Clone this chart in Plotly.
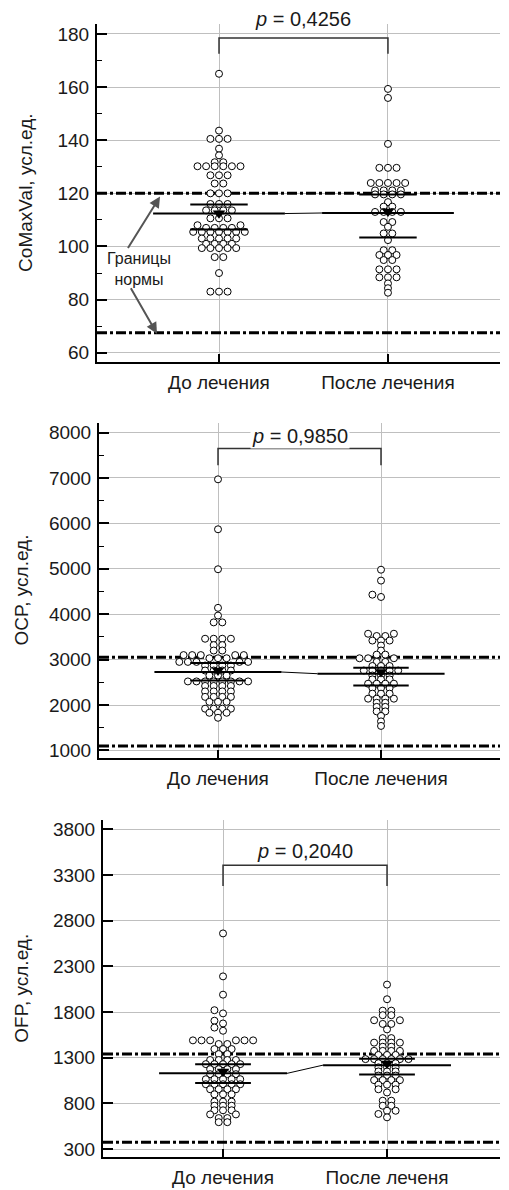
import math
import plotly.graph_objects as go

# The page body has an 8px default margin; figure coordinates are shifted by it.
OFF = 8
W, H = 509 - OFF, 1190 - OFF
FONT = "Liberation Sans, Arial, Helvetica, sans-serif"
TXT = "#1a1a1a"

# ---------------- data ----------------
groups = ["До лечения", "После лечения"]
groups_ofp = ["До лечения", "После леченя"]

comax_before = [
    165.0, 143.6, 140.5, 140.5, 140.5, 136.8, 134.3, 131.7, 131.7,
    130.2, 130.2, 130.2, 130.2, 130.2, 130.2,
    126.8, 126.8, 126.8, 123.7, 123.7, 120.0, 120.0, 120.0,
    116.0, 116.0, 116.0, 113.6, 113.6, 113.6, 113.6,
    110.6, 110.6, 110.6, 108.0, 108.0, 107.0, 107.0, 107.0, 107.0,
    105.5, 105.5, 105.5, 105.5, 105.5, 105.5, 105.5,
    103.0, 103.0, 103.0, 103.0, 103.0,
    101.0, 101.0, 101.0, 101.0,
    99.4, 99.4, 99.4, 99.4, 99.4,
    96.0, 96.0, 90.0, 83.0, 83.0, 83.0]
comax_after = [
    159.3, 155.9, 138.6, 129.6, 129.6, 129.6,
    123.9, 123.9, 123.9, 123.9, 123.9,
    121.1, 121.1, 121.1, 121.1, 119.6, 119.6, 119.6, 119.6,
    116.7, 115.0, 115.0, 113.0, 113.0, 113.0, 113.0,
    109.2, 109.2, 107.4, 104.9, 104.9, 102.4,
    98.6, 98.6, 96.8, 96.8, 96.8, 94.9, 94.9,
    91.4, 91.4, 91.4, 88.4, 88.4, 88.4, 86.1, 84.3, 82.6]

ocp_before = [
    6970, 5870, 4990, 4140, 3970, 3820, 3820,
    3460, 3460, 3460, 3460, 3320, 3320, 3200, 3200,
    3100, 3100, 3100, 3100, 3100, 3030, 3030, 3030,
    2950, 2950, 2950, 2950, 2950, 2870, 2870, 2870, 2870,
    2760, 2760, 2760, 2760, 2650, 2650, 2650,
    2520, 2520, 2520, 2520, 2520, 2520, 2520, 2520,
    2420, 2420, 2420, 2420, 2300, 2300, 2300, 2300,
    2180, 2180, 2180, 2180, 2070, 2070, 2070,
    1920, 1920, 1920, 1920, 1830, 1830, 1830, 1720]
ocp_after = [
    4980, 4740, 4430, 4380, 3570, 3570, 3520, 3520,
    3420, 3420, 3420, 3310, 3200, 3110, 3110,
    3030, 3030, 3030, 2950, 2950, 2860, 2860, 2860,
    2760, 2760, 2760, 2760, 2760, 2650, 2650, 2650,
    2565, 2565, 2565, 2470, 2470, 2470, 2470,
    2375, 2375, 2375, 2250, 2250, 2250,
    2140, 2140, 2140, 2140, 2050, 2050, 1960, 1960,
    1860, 1860, 1760, 1640, 1540]

ofp_before = [
    2660, 2190, 1990, 1820, 1785, 1705, 1675, 1630, 1595,
    1490, 1490, 1490, 1490, 1490, 1490, 1450, 1450,
    1395, 1395, 1395, 1340, 1340,
    1275, 1275, 1275, 1275, 1230, 1230, 1230, 1230, 1230,
    1175, 1175, 1175, 1175, 1120, 1120, 1120, 1120,
    1065, 1065, 1065, 1065, 1065, 1010, 1010, 1010, 1010, 1010,
    955, 955, 955, 955, 900, 900, 900,
    820, 820, 820, 775, 775, 775, 725, 725, 725,
    680, 680, 640, 640, 595, 595]
ofp_after = [
    2100, 1940, 1815, 1815, 1765, 1765, 1710, 1710, 1670, 1670, 1610,
    1515, 1515, 1465, 1465, 1465, 1465, 1420, 1420,
    1375, 1375, 1375, 1375, 1330, 1330, 1330,
    1285, 1285, 1285, 1285, 1285, 1285, 1240, 1240, 1240,
    1195, 1195, 1195, 1150, 1150, 1150, 1105, 1105, 1105,
    1055, 1055, 1055, 1055, 1005, 1005, 1005, 955, 955, 920,
    830, 830, 775, 775, 720, 720, 685, 648]

# summary statistics per group (long line, mean marker, CI short lines)
comax_line = [112.4, 112.6]
comax_mean = [112.5, 113.2]
comax_ci_low = [106.4, 103.4]
comax_ci_high = [115.8, 119.6]
ocp_line = [2727, 2690]
ocp_mean = [2762, 2727]
ocp_ci_low = [2543, 2433]
ocp_ci_high = [2924, 2821]
ofp_line = [1129, 1219]
ofp_mean = [1150, 1238]
ofp_ci_low = [1023, 1117]
ofp_ci_high = [1230, 1290]

comax_norm = [67.5, 120]
ocp_norm = [1100, 3050]
ofp_norm = [375, 1340]

p_values = ["0,4256", "0,9850", "0,2040"]
y_titles = ["CoMaxVal, усл.ед.", "OCP, усл.ед.", "OFP, усл.ед."]

# ---------------- layout config (reference pixel positions) ----------------
panels = [
    dict(vals=[comax_before, comax_after], line=comax_line, mean=comax_mean,
         lo=comax_ci_low, hi=comax_ci_high, norm=comax_norm, cats=groups,
         px=(97, 500, 23, 362), yr=(56.6, 183.75), xr=(-0.722, 1.663),
         tick0=60, dtick=20, minor=10, bracket=(172.5, 178.5), ptext_px=18,
         title_x=26),
    dict(vals=[ocp_before, ocp_after], line=ocp_line, mean=ocp_mean,
         lo=ocp_ci_low, hi=ocp_ci_high, norm=ocp_norm, cats=groups,
         px=(99, 500, 423, 760), yr=(824, 8219), xr=(-0.730, 1.730),
         tick0=1000, dtick=1000, minor=500, bracket=(7280, 7650), ptext_px=436,
         title_x=22),
    dict(vals=[ofp_before, ofp_after], line=ofp_line, mean=ofp_mean,
         lo=ofp_ci_low, hi=ofp_ci_high, norm=ofp_norm, cats=groups_ofp,
         px=(103, 500, 822, 1160), yr=(213, 3898), xr=(-0.732, 1.689),
         tick0=300, dtick=500, minor=None, bracket=(3178, 3407), ptext_px=853,
         title_x=22),
]

DOT = 7.0
DX = 8.6     # horizontal spacing of dots in a row (px)
DY = 3.8     # vertical distance under which dots must not share a column (px)
LONG_HW = 0.39
SHORT_HW = 0.17


def swarm(values, ppu):
    """Grid-like beeswarm: returns horizontal offsets in pixels."""
    offs = [0.0] * len(values)
    order = sorted(range(len(values)), key=lambda i: values[i])
    grp = []
    for i in order:
        if grp and values[grp[-1][0]] == values[i]:
            grp[-1].append(i)
        else:
            grp.append([i])
    placed = []

    def ok(x, y):
        for (xj, yj) in placed:
            if abs(y - yj) < DY and abs(x - xj) < DX - 1e-6:
                return False
        return True

    for g in grp:
        n = len(g)
        y = values[g[0]] * ppu
        done = False
        for s in [0, -0.5, 0.5, -1, 1]:
            xs = [((k - (n - 1) / 2) + s) * DX for k in range(n)]
            if all(ok(x, y) for x in xs):
                for k, i in enumerate(g):
                    offs[i] = xs[k]
                    placed.append((xs[k], y))
                done = True
                break
        if done:
            continue
        for i in g:
            cands = sorted([h * DX / 2 for h in range(-30, 31)], key=lambda c: (abs(c), c))
            for c in cands:
                if ok(c, y):
                    offs[i] = c
                    placed.append((c, y))
                    break
    return offs


fig = go.Figure()
annotations = []

for k, p in enumerate(panels):
    s = "" if k == 0 else str(k + 1)
    xa, ya = "x" + s, "y" + s
    x0p, x1p, y0p, y1p = [v - OFF for v in p["px"]]
    ppu = (y1p - y0p) / (p["yr"][1] - p["yr"][0])
    ppc = (x1p - x0p) / (p["xr"][1] - p["xr"][0])
    xdom = [x0p / W, x1p / W]
    ydom = [1 - y1p / H, 1 - y0p / H]

    # normal limits (dash-dot lines across the plot)
    for nv in p["norm"]:
        fig.add_trace(go.Scatter(
            x=list(p["xr"]), y=[nv, nv], mode="lines", xaxis=xa, yaxis=ya,
            showlegend=False, hoverinfo="skip",
            line=dict(color="black", width=3, dash="10px,3px,3px,3px")))

    # dots
    for g, vals in enumerate(p["vals"]):
        offs = swarm(vals, ppu)
        fig.add_trace(go.Scatter(
            x=[g + o / ppc for o in offs], y=vals, mode="markers",
            xaxis=xa, yaxis=ya, showlegend=False, hoverinfo="skip",
            marker=dict(size=DOT, color="white", line=dict(color="black", width=1))))

    # connecting thin line
    fig.add_trace(go.Scatter(
        x=[LONG_HW, 1 - LONG_HW], y=[p["line"][0], p["line"][1]], mode="lines",
        xaxis=xa, yaxis=ya, showlegend=False, hoverinfo="skip",
        line=dict(color="black", width=1)))
    for g in range(2):
        fig.add_trace(go.Scatter(
            x=[g - LONG_HW, g + LONG_HW], y=[p["line"][g]] * 2, mode="lines",
            xaxis=xa, yaxis=ya, showlegend=False, hoverinfo="skip",
            line=dict(color="black", width=2)))
        fig.add_trace(go.Scatter(
            x=[g - SHORT_HW, g + SHORT_HW, None, g - SHORT_HW, g + SHORT_HW],
            y=[p["lo"][g], p["lo"][g], None, p["hi"][g], p["hi"][g]], mode="lines",
            xaxis=xa, yaxis=ya, showlegend=False, hoverinfo="skip",
            line=dict(color="black", width=2)))
    fig.add_trace(go.Scatter(
        x=[0, 1], y=p["mean"], mode="markers", xaxis=xa, yaxis=ya,
        showlegend=False, hoverinfo="skip",
        marker=dict(symbol="triangle-down", size=11, color="black")))

    # bracket
    b0, b1 = p["bracket"]
    fig.add_trace(go.Scatter(
        x=[0, 0, 1, 1], y=[b0, b1, b1, b0], mode="lines", xaxis=xa, yaxis=ya,
        showlegend=False, hoverinfo="skip", cliponaxis=False,
        line=dict(color="#333333", width=1.5)))

    annotations.append(dict(
        x=0.5, y=1 - (p["ptext_px"] - OFF) / H, xref=xa, yref="paper",
        showarrow=False, xanchor="center", yanchor="middle",
        text="<i>p</i> = " + p_values[k], bgcolor="white",
        font=dict(family=FONT, size=20, color=TXT)))
    annotations.append(dict(
        x=(p["title_x"] - OFF) / W, y=1 - ((y0p + y1p) / 2) / H,
        xref="paper", yref="paper", xanchor="center", yanchor="middle",
        showarrow=False, text=y_titles[k], textangle=-90,
        font=dict(family=FONT, size=19, color=TXT)))

    axis_x = dict(domain=xdom, range=list(p["xr"]), anchor=ya,
                  tickmode="array", tickvals=[0, 1], ticktext=p["cats"],
                  ticks="inside", ticklen=8, tickwidth=1.5, tickcolor="black",
                  showline=True, linecolor="black", linewidth=2,
                  showgrid=True, gridcolor="#bfbfbf", gridwidth=1, zeroline=False,
                  ticklabelstandoff=2,
                  tickfont=dict(family=FONT, size=19, color=TXT))
    axis_y = dict(domain=ydom, range=list(p["yr"]), anchor=xa,
                  tick0=p["tick0"], dtick=p["dtick"],
                  ticks="inside", ticklen=10, tickwidth=1.5, tickcolor="black",
                  showline=True, linecolor="black", linewidth=2,
                  showgrid=True, gridcolor="#bfbfbf", gridwidth=1, zeroline=False,
                  ticklabelstandoff=2,
                  tickfont=dict(family=FONT, size=19, color=TXT))
    if p["minor"]:
        axis_y["minor"] = dict(dtick=p["minor"], ticks="inside", ticklen=5,
                               tickwidth=1.2, tickcolor="black", showgrid=False)
    fig.layout["xaxis" + s] = axis_x
    fig.layout["yaxis" + s] = axis_y

# "Границы нормы" label with arrows (panel 1)
annotations.append(dict(x=-0.475, y=91.5, xref="x", yref="y", showarrow=False,
                        xanchor="center", yanchor="middle",
                        text="Границы<br>нормы",
                        font=dict(family=FONT, size=16, color=TXT)))
annotations.append(dict(x=-0.349, y=118.8, xref="x", yref="y", text="",
                        showarrow=True, ax=-33, ay=53, arrowhead=2, arrowsize=1.1,
                        arrowwidth=2, arrowcolor="#555555"))
annotations.append(dict(x=-0.367, y=67.2, xref="x", yref="y", text="",
                        showarrow=True, ax=-27, ay=-47, arrowhead=2, arrowsize=1.1,
                        arrowwidth=2, arrowcolor="#555555"))

fig.update_layout(width=W, height=H, margin=dict(l=0, r=0, t=0, b=0),
                  paper_bgcolor="white", plot_bgcolor="white",
                  showlegend=False, annotations=annotations,
                  font=dict(family=FONT, color=TXT))

fig.write_html("out.html")
